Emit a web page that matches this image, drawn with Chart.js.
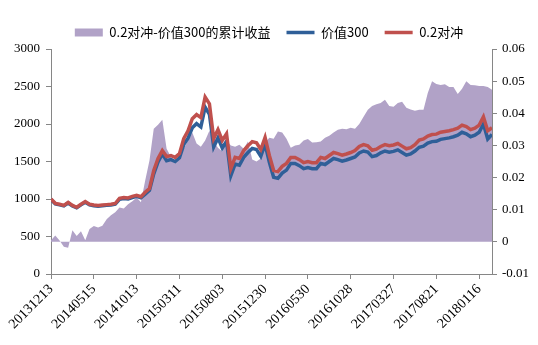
<!DOCTYPE html>
<html>
<head>
<meta charset="utf-8">
<script src="https://cdn.jsdelivr.net/npm/chart.js@4.4.0/dist/chart.umd.min.js"></script>
<style>
    html, body { margin: 0; padding: 0; background: #fff; }
</style>
</head>
<body>
<canvas id="chart" width="538" height="345"></canvas>
<script>
// x 轴标签，每 100 个交易日一个
const tickLabels = ['20131213', '20140515', '20141013', '20150311', '20150803', '20151230',
    '20160530', '20161028', '20170327', '20170821', '20180116'];
const STEP = 10; // 每个采样点间隔 10 个交易日

// 0.2对冲（左轴）
const hedgeLine = [
    1000, 942, 930, 915, 955, 915, 890, 930, 965, 930,
    920, 915, 920, 925, 930, 940, 1010, 1020, 1015, 1035,
    1050, 1030, 1090, 1140, 1380, 1540, 1645, 1565, 1580, 1555,
    1605, 1805, 1910, 2070, 2125, 2085, 2360, 2270, 1805, 1925,
    1780, 1870, 1405, 1555, 1540, 1645, 1710, 1765, 1750, 1660,
    1820, 1580, 1380, 1365, 1435, 1475, 1555, 1555, 1525, 1485,
    1500, 1485, 1485, 1555, 1540, 1580, 1620, 1605, 1585, 1600,
    1620, 1645, 1700, 1725, 1710, 1650, 1665, 1700, 1725, 1710,
    1720, 1740, 1705, 1670, 1685, 1725, 1785, 1800, 1840, 1860,
    1865, 1890, 1900, 1910, 1925, 1945, 1985, 1965, 1925, 1945,
    1985, 2095, 1910, 1950
];

// 价值300（左轴）
const valueLine = [
    992, 934, 922, 907, 947, 907, 882, 922, 957, 922,
    910, 905, 910, 915, 920, 930, 995, 1005, 1000, 1020,
    1035, 1015, 1065, 1115, 1335, 1495, 1600, 1510, 1525, 1500,
    1550, 1725, 1810, 1950, 2005, 1960, 2225, 2130, 1695, 1815,
    1680, 1770, 1310, 1465, 1450, 1555, 1620, 1675, 1660, 1570,
    1730, 1490, 1290, 1275, 1345, 1385, 1475, 1475, 1445, 1405,
    1420, 1405, 1405, 1475, 1460, 1500, 1540, 1525, 1505, 1520,
    1540, 1560, 1615, 1640, 1625, 1565, 1580, 1615, 1640, 1625,
    1635, 1655, 1620, 1585, 1600, 1640, 1690, 1705, 1745, 1765,
    1770, 1795, 1805, 1815, 1830, 1850, 1890, 1870, 1830, 1850,
    1890, 2000, 1800, 1860
];

// 0.2对冲-价值300的累计收益（右轴）
const excessReturn = [
    0.0005, 0.002, 0.0004, -0.0015, -0.0018, 0.0036, 0.0018, 0.0033, 0.0005, 0.004,
    0.0049, 0.0045, 0.005, 0.007, 0.0083, 0.0092, 0.0107, 0.0104, 0.0117, 0.0126,
    0.0138, 0.0123, 0.0191, 0.0253, 0.0352, 0.0364, 0.038, 0.029, 0.0265, 0.0253,
    0.0259, 0.029, 0.0315, 0.034, 0.0306, 0.0296, 0.0315, 0.0346, 0.0312, 0.0293,
    0.0281, 0.0315, 0.03, 0.0296, 0.0302, 0.029, 0.0312, 0.0256, 0.025, 0.0259,
    0.0309, 0.0324, 0.0321, 0.0343, 0.034, 0.0321, 0.0293, 0.03, 0.0302, 0.0315,
    0.032, 0.0309, 0.031, 0.0312, 0.0324, 0.033, 0.034, 0.0349, 0.0352, 0.035,
    0.0355, 0.0352, 0.0367, 0.0389, 0.0411, 0.0423, 0.0428, 0.0432, 0.0442, 0.0423,
    0.042, 0.0432, 0.0436, 0.0417, 0.0412, 0.0408, 0.0411, 0.0411, 0.0463, 0.05,
    0.0491, 0.0488, 0.049, 0.0482, 0.0482, 0.046, 0.0476, 0.05, 0.0488, 0.0487,
    0.0485, 0.0485, 0.0482, 0.0473
];

const axisColor = '#868686';
const serif = '"Liberation Serif", "Times New Roman", serif';

function toPoints(arr) {
    return arr.map((v, i) => ({ x: i * STEP, y: v }));
}

const ctx = document.getElementById('chart').getContext('2d');
new Chart(ctx, {
    type: 'line',
    data: {
        datasets: [{
            label: '0.2对冲-价值300的累计收益',
            data: toPoints(excessReturn),
            yAxisID: 'y2',
            backgroundColor: '#B1A2C7',
            borderColor: '#B1A2C7',
            borderWidth: 0,
            pointRadius: 0,
            fill: 'origin',
            order: 3
        }, {
            label: '价值300',
            data: toPoints(valueLine),
            yAxisID: 'y',
            borderColor: '#2F5F98',
            borderWidth: 3.5,
            pointRadius: 0,
            fill: false,
            order: 2
        }, {
            label: '0.2对冲',
            data: toPoints(hedgeLine),
            yAxisID: 'y',
            borderColor: '#C0504D',
            borderWidth: 3.5,
            pointRadius: 0,
            fill: false,
            order: 1
        }]
    },
    options: {
        responsive: false,
        animation: false,
        layout: { padding: { top: 10 } },
        plugins: {
            tooltip: { enabled: false },
            legend: {
                position: 'top',
                labels: {
                    usePointStyle: true,
                    pointStyleWidth: 28,
                    boxHeight: 8,
                    padding: 16,
                    color: '#000',
                    font: { family: '"Noto Sans CJK SC", sans-serif', size: 13 },
                    sort: (a, b) => a.datasetIndex - b.datasetIndex,
                    generateLabels: chart => chart.data.datasets.map((ds, i) => ({
                        text: ds.label,
                        datasetIndex: i,
                        fillStyle: ds.fill ? ds.backgroundColor : ds.borderColor,
                        strokeStyle: ds.borderColor,
                        lineWidth: ds.fill ? 0 : 3.5,
                        pointStyle: ds.fill ? 'rect' : 'line',
                        hidden: false,
                        fontColor: '#000'
                    }))
                }
            }
        },
        scales: {
            x: {
                type: 'linear',
                min: 0,
                max: (hedgeLine.length - 1) * STEP,
                afterFit: s => { s.height = 71; },
                ticks: {
                    stepSize: 100,
                    includeBounds: false,
                    autoSkip: false,
                    maxRotation: 45,
                    minRotation: 45,
                    padding: 2,
                    color: '#000',
                    font: { family: serif, size: 14 },
                    callback: v => tickLabels[v / 100]
                },
                grid: { drawOnChartArea: false, tickLength: 5, color: axisColor },
                border: { color: axisColor }
            },
            y: {
                position: 'left',
                min: 0,
                max: 3000,
                afterFit: s => { s.width = 51; },
                ticks: {
                    stepSize: 500,
                    padding: 6,
                    color: '#000',
                    font: { family: serif, size: 13 },
                    callback: v => String(v)
                },
                grid: { drawOnChartArea: false, tickLength: 5, color: axisColor },
                border: { color: axisColor }
            },
            y2: {
                position: 'right',
                min: -0.01,
                max: 0.06,
                afterFit: s => { s.width = 46; },
                ticks: {
                    stepSize: 0.01,
                    padding: 5,
                    color: '#000',
                    font: { family: serif, size: 13 },
                    callback: v => Math.abs(v) < 1e-9 ? '0' : v.toFixed(2)
                },
                grid: { drawOnChartArea: false, tickLength: 5, color: axisColor },
                border: { color: axisColor }
            }
        }
    }
});
</script>
</body>
</html>
